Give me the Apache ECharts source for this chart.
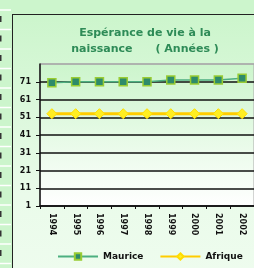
<!DOCTYPE html>
<html>
<head>
<meta charset="utf-8">
<script src="https://cdn.jsdelivr.net/npm/echarts@6/dist/echarts.min.js"></script>
<style>
  html, body { margin: 0; padding: 0; background: #ccf5cc; }
  #wrap { position: relative; width: 254px; height: 268px; overflow: hidden; }
  #frame {
    position: absolute; left: 12px; top: 14px; right: -4px; bottom: -4px;
    border-left: 1.5px solid #222; border-top: 1.5px solid #222;
    background: linear-gradient(#ccf5cc, #eafbea 70%, #eefcee);
  }
  #chart { position: absolute; left: 0; top: 0; width: 254px; height: 268px; }
</style>
</head>
<body>
<div id="wrap">
  <div id="frame"></div>
  <div id="chart"></div>
</div>
<script>
const years = ['1994', '1995', '1996', '1997', '1998', '1999', '2000', '2001', '2002']
const maurice = [70.5, 71, 71, 71, 71, 72, 72, 72, 73]
const afrique = [53, 53, 53, 53, 53, 53, 53, 53, 53]
const yMin = 1
const yMax = 81
const yStep = 10

const chart = echarts.init(document.getElementById('chart'))

// left strip: spreadsheet rows peeking out
const strip = []
for (let y = 10; y < 268; y += 19.5) {
  strip.push({ type: 'line', shape: { x1: 0, y1: y, x2: 11, y2: y }, style: { stroke: '#ffffff', lineWidth: 1.5 } })
  strip.push({ type: 'rect', shape: { x: 0, y: y + 6, width: 1.5, height: 6 }, style: { fill: '#333' } })
}

chart.setOption({
  animation: false,
  textStyle: { fontFamily: 'DejaVu Sans' },
  title: {
    text: 'Espérance de vie à la\nnaissance      ( Années )',
    left: 140,
    top: 20,
    textAlign: 'center',
    textStyle: { fontSize: 11, fontWeight: 'bold', color: '#2e8b57', lineHeight: 16, fontFamily: 'DejaVu Sans' }
  },
  graphic: strip,
  legend: {
    bottom: 2,
    left: 52,
    itemWidth: 40,
    itemHeight: 8,
    itemGap: 16,
    textStyle: { fontSize: 9, fontWeight: 'bold', color: '#111' },
    data: ['Maurice', 'Afrique']
  },
  grid: {
    left: 40,
    top: 64,
    width: 222,
    height: 142,
    show: true,
    borderColor: '#aaa',
    borderWidth: 1,
    backgroundColor: new echarts.graphic.LinearGradient(0, 0, 0, 1, [
      { offset: 0, color: '#ccf5cc' },
      { offset: 1, color: '#ffffff' }
    ])
  },
  xAxis: {
    type: 'category',
    data: years,
    boundaryGap: true,
    axisLine: { lineStyle: { color: '#111', width: 1.5 } },
    axisTick: { show: true, length: 3, lineStyle: { color: '#111' } },
    axisLabel: { rotate: -90, fontSize: 8, fontWeight: 'bold', color: '#111', margin: 7 }
  },
  yAxis: {
    type: 'value',
    min: yMin,
    max: yMax,
    interval: yStep,
    axisLine: { show: true, lineStyle: { color: '#111', width: 1.5 } },
    axisTick: { show: true, length: 4, lineStyle: { color: '#111' } },
    axisLabel: { fontSize: 8, fontWeight: 'bold', color: '#111', margin: 9, showMaxLabel: false },
    splitLine: {
      lineStyle: {
        color: ['#111', '#111', '#111', '#111', '#111', '#111', '#111', '#111', '#aaa'],
        width: 1.5
      }
    }
  },
  series: [
    {
      name: 'Maurice',
      type: 'line',
      data: maurice,
      symbol: 'rect',
      symbolSize: 8,
      lineStyle: { color: '#4daf80', width: 1.5 },
      itemStyle: { color: '#2e8b6a', borderColor: '#99cc33', borderWidth: 1.5 },
      z: 3
    },
    {
      name: 'Afrique',
      type: 'line',
      data: afrique,
      symbol: 'diamond',
      symbolSize: 10,
      lineStyle: { color: '#ffcc00', width: 3 },
      itemStyle: { color: '#ffee22', borderColor: '#ffdd00', borderWidth: 1 },
      z: 2
    }
  ]
})
</script>
</body>
</html>
